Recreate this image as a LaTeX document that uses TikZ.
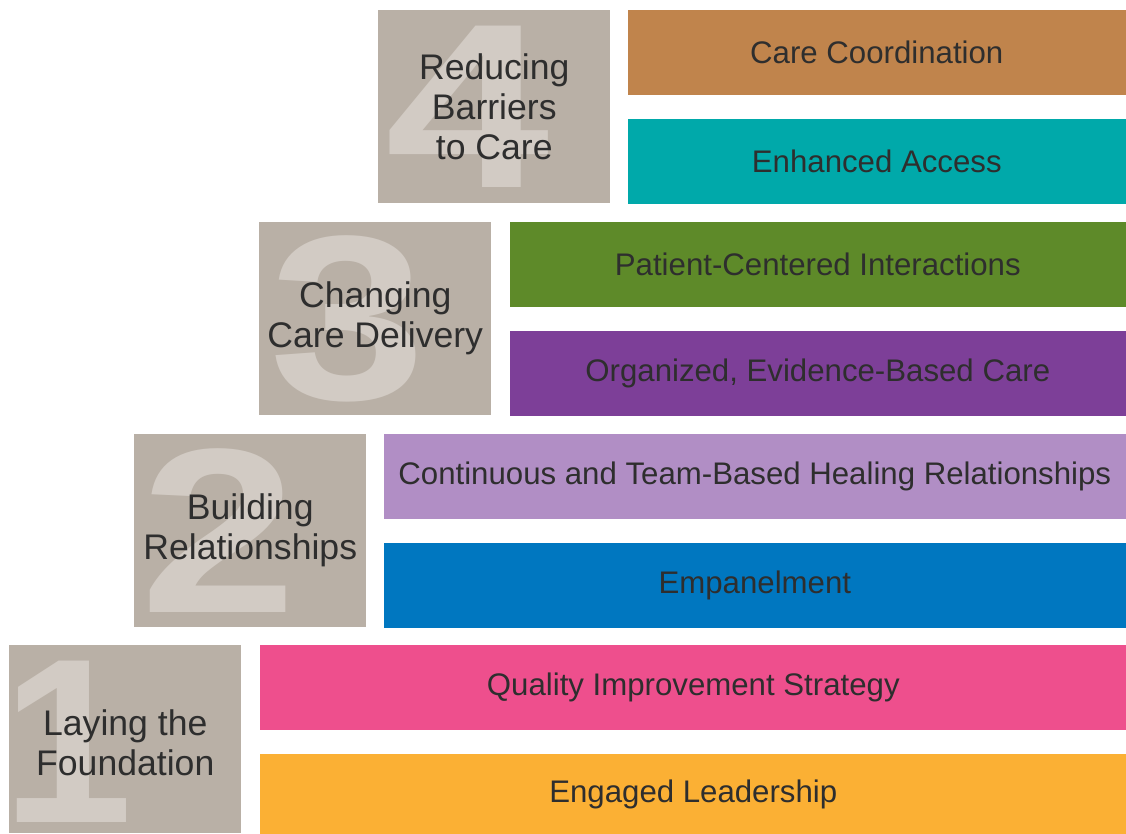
\documentclass[tikz,border=0pt]{standalone}
\usepackage{fontspec}
\setmainfont{Liberation Sans}
\usepackage{tikz}
\usetikzlibrary{positioning}
\usepackage{xcolor}

\definecolor{stepgray}{HTML}{B9B0A6}
\definecolor{numgray}{HTML}{D2CBC4}
\definecolor{txtgray}{HTML}{2E2E2E}
\definecolor{carebrown}{HTML}{C0844C}
\definecolor{accteal}{HTML}{00A9AA}
\definecolor{pcgreen}{HTML}{5E8A29}
\definecolor{orgpurple}{HTML}{7D3F98}
\definecolor{teamlilac}{HTML}{B18EC5}
\definecolor{empblue}{HTML}{0077C0}
\definecolor{qipink}{HTML}{EE4F8D}
\definecolor{leadorange}{HTML}{FBB034}

\newlength{\pxu}
\setlength{\pxu}{0.75pt}

\begin{document}
\begin{tikzpicture}[
        x=0.75pt, y=-0.75pt,
        stepbox/.style={rectangle, fill=stepgray, minimum width=232\pxu, minimum height=193\pxu, inner sep=0pt, anchor=north west},
        bignum/.style={font=\fontsize{176}{176}\selectfont\bfseries, text=numgray, inner sep=0pt, anchor=west, transform shape, xscale=1.2},
        steplabel/.style={font=\fontsize{26.7}{30}\selectfont, text=txtgray, align=center, inner sep=0pt},
        bar/.style={rectangle, minimum height=85\pxu, inner sep=0pt, anchor=north west, font=\fontsize{23.4}{28}\selectfont, text=txtgray}
    ]
    \useasboundingbox (0,0) rectangle (1126,833);

    % PASO 4
    \node[stepbox] (lvl4) at (378,10) {};
    \node[bignum, xscale=1.05] (num4) at ([xshift=7\pxu]lvl4.west) {4};
    \node[steplabel] (lab4) at (lvl4.center) {Reducing\\Barriers\\to Care};
    \node[bar, fill=carebrown, minimum width=498\pxu] (carecoord) at ([xshift=17\pxu]lvl4.north east) {Care Coordination};
    \node[bar, fill=accteal, minimum width=498\pxu] (access) at ([yshift=-23\pxu]carecoord.south west) {Enhanced Access};

    % PASO 3
    \node[stepbox] (lvl3) at (259,222) {};
    \node[bignum] (num3) at ([xshift=10\pxu]lvl3.west) {3};
    \node[steplabel] (lab3) at (lvl3.center) {Changing\\Care Delivery};
    \node[bar, fill=pcgreen, minimum width=616\pxu] (pcinter) at ([xshift=18\pxu]lvl3.north east) {Patient-Centered Interactions};
    \node[bar, fill=orgpurple, minimum width=616\pxu] (orgcare) at ([yshift=-23\pxu]pcinter.south west) {Organized, Evidence-Based Care};

    % PASO 2
    \node[stepbox] (lvl2) at (134,434) {};
    \node[bignum] (num2) at ([xshift=6\pxu]lvl2.west) {2};
    \node[steplabel] (lab2) at (lvl2.center) {Building\\Relationships};
    \node[bar, fill=teamlilac, minimum width=742\pxu] (teamheal) at ([xshift=17\pxu]lvl2.north east) {Continuous and Team-Based Healing Relationships};
    \node[bar, fill=empblue, minimum width=742\pxu] (empanel) at ([yshift=-23\pxu]teamheal.south west) {Empanelment};

    % PASO 1
    \node[stepbox, minimum height=188\pxu] (lvl1) at (9,645) {};
    \node[bignum, xscale=1/1.2] (num1) at ([xshift=-7\pxu, yshift=-2\pxu]lvl1.west) {1};
    \node[steplabel] (lab1) at ([yshift=-3\pxu]lvl1.center) {Laying the\\Foundation};
    \node[bar, fill=qipink, minimum width=867\pxu] (qistrat) at ([xshift=18\pxu]lvl1.north east) {Quality Improvement Strategy};
    \node[bar, fill=leadorange, minimum width=867\pxu, minimum height=81\pxu] (leader) at ([yshift=-23\pxu]qistrat.south west) {Engaged Leadership};
\end{tikzpicture}
\end{document}
